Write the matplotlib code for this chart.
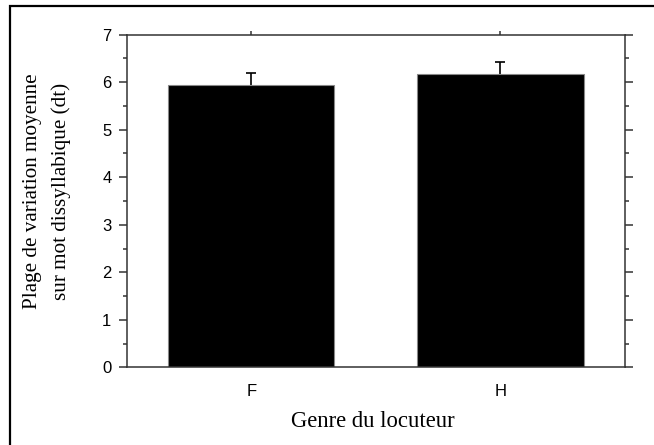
import matplotlib
matplotlib.use("Agg")
import matplotlib.pyplot as plt
from matplotlib.patches import Rectangle
from matplotlib.ticker import MultipleLocator

# Mean pitch range on disyllabic words, by speaker gender
categories = ["F", "H"]
means = [5.95, 6.17]
errors = [0.25, 0.25]
yticks = [0, 1, 2, 3, 4, 5, 6, 7]

fig = plt.figure(figsize=(6.54, 4.45), dpi=100)
fig.patches.append(Rectangle((10 / 654, -0.01), 1.0, 1 - 6.5 / 445 + 0.01,
                             transform=fig.transFigure, fill=False,
                             edgecolor="black", linewidth=1.6))

ax = fig.add_axes([126.7 / 654, 77.7 / 445, 498.3 / 654, 332.6 / 445])
x = list(range(len(categories)))
ax.bar(x, means, width=0.667, color="black", edgecolor="#888888", linewidth=0.8, zorder=2)
_, caps, _ = ax.errorbar(x, means, yerr=[[0] * len(means), errors], fmt="none",
                         ecolor="black", elinewidth=1.2, capsize=3.5, capthick=1.2,
                         zorder=1)
# keep only the upper caps
for cap in caps:
    if list(cap.get_ydata()) == list(means):
        cap.set_visible(False)

ax.set_xlim(-0.5, 1.5)
ax.set_ylim(0, 7)
ax.set_xticks(x)
ax.set_xticklabels(categories)
ax.set_yticks(yticks)
ax.yaxis.set_minor_locator(MultipleLocator(0.5))

spine_col = "#333333"
for s in ax.spines.values():
    s.set_color(spine_col)
    s.set_linewidth(1.1)

ax.tick_params(axis="y", which="major", direction="out", length=6, width=1.1,
               color=spine_col, left=True, right=True, labelleft=True,
               labelright=False, pad=5)
ax.tick_params(axis="y", which="minor", direction="out", length=3.2, width=1.1,
               color=spine_col, left=True, right=True)
ax.tick_params(axis="x", which="major", direction="out", length=3, width=1.1,
               color=spine_col, bottom=False, top=True, labelbottom=True,
               labeltop=False, pad=9)
for lbl in ax.get_xticklabels() + ax.get_yticklabels():
    lbl.set_fontfamily("Liberation Sans")
    lbl.set_fontsize(12)

fig.text(33 / 654, 1 - 191.5 / 445, "Plage de variation moyenne", rotation=90,
         ha="center", va="center", family="Liberation Serif", fontsize=15.2)
fig.text(61.5 / 654, 1 - 191.5 / 445, "sur mot dissyllabique (dt)", rotation=90,
         ha="center", va="center", family="Liberation Serif", fontsize=15.2)
fig.text(373 / 654, 1 - 421.5 / 445, "Genre du locuteur", ha="center", va="center",
         family="Liberation Serif", fontsize=16.3)

fig.savefig("out.png", dpi=100)
